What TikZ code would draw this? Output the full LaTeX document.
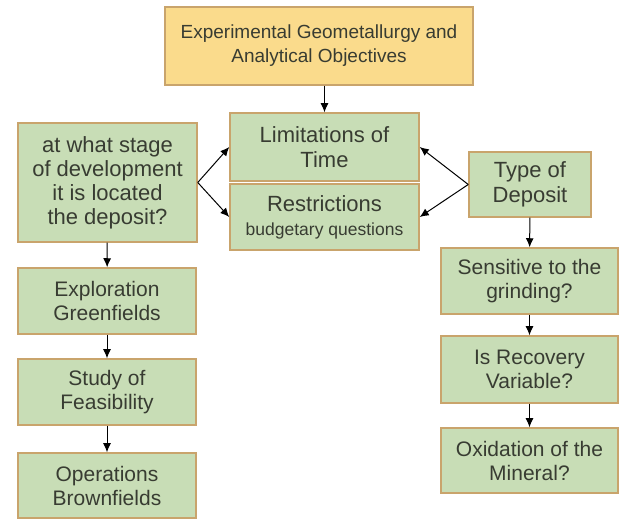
\documentclass[tikz,border=0pt]{standalone}
\usepackage{fontspec}
\setmainfont{Liberation Sans}
\usetikzlibrary{arrows.meta}

\definecolor{boxgreen}{HTML}{C8DDB6}
\definecolor{boxyellow}{HTML}{FADB8C}
\definecolor{boxedge}{HTML}{C9A46C}
\definecolor{boxtext}{HTML}{383C32}

\tikzset{
  box/.style={draw=boxedge, line width=1.5pt, fill=boxgreen, text=boxtext,
    align=center, inner sep=0pt, minimum width=178pt, minimum height=66pt,
    font=\fontsize{21}{24}\selectfont},
  arr/.style={-{Latex[length=9pt,width=8pt]}, line width=1pt},
}

\begin{document}
\begin{tikzpicture}[x=1pt, y=-1pt]
  \useasboundingbox (0,0) rectangle (622,521);

  % top
  \node[box, fill=boxyellow, minimum width=308pt, minimum height=78pt,
    font=\fontsize{19}{24}\selectfont] (goal) at (319,46)
    {Experimental Geometallurgy and\\Analytical Objectives};

  % middle
  \node[box, minimum width=189pt, minimum height=68pt,
    font=\fontsize{22}{25}\selectfont] (limit) at (324.5,147) {Limitations of\\Time};
  \node[box, minimum width=189pt] (restr) at (324.5,217)
    {\fontsize{22}{25}\selectfont Restrictions\\
     \fontsize{17.5}{24}\selectfont budgetary questions};

  % left column
  \node[box, minimum width=179pt, minimum height=119pt,
    font=\fontsize{22}{24}\selectfont] (stage) at (107.5,182.5)
    {at what stage\\of development\\it is located\\the deposit?};
  \node[box] (explo) at (107,301) {Exploration\\Greenfields};
  \node[box] (study) at (107,392) {Study of\\Feasibility};
  \node[box, minimum height=65pt] (oper) at (107,485.5) {Operations\\Brownfields};

  % right column
  \node[box, minimum width=122pt, minimum height=65pt,
    font=\fontsize{22}{25}\selectfont] (type) at (530,184.5) {Type of\\Deposit};
  \node[box, minimum width=177pt] (sens) at (529.5,281) {Sensitive to the\\grinding?};
  \node[box, minimum width=177pt, minimum height=67pt] (recov) at (529.5,369.5)
    {Is Recovery\\Variable?};
  \node[box, minimum width=177pt, minimum height=65pt] (oxid) at (529.5,460.5)
    {Oxidation of the\\Mineral?};

  % arrows
  \draw[arr] (limit.north |- goal.south) -- (limit.north);
  \draw[arr] (stage.east) -- (limit.west);
  \draw[arr] (stage.east) -- (restr.west);
  \draw[arr] (type.west) -- (limit.east);
  \draw[arr] (type.west) -- (restr.east);
  \draw[arr] (stage) -- (explo);
  \draw[arr] (explo) -- (study);
  \draw[arr] (study) -- (oper);
  \draw[arr] (type) -- (sens);
  \draw[arr] (sens) -- (recov);
  \draw[arr] (recov) -- (oxid);
\end{tikzpicture}
\end{document}
